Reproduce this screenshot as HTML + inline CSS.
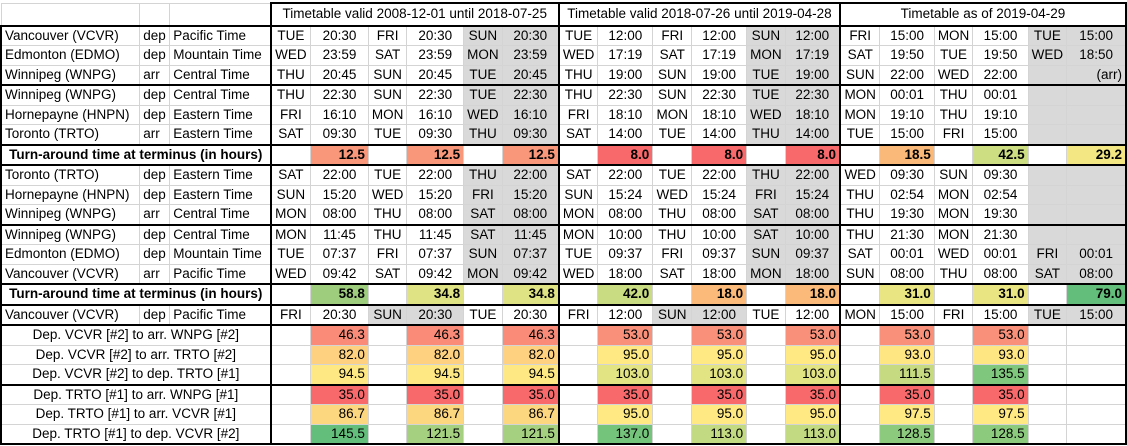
<!DOCTYPE html>
<html><head><meta charset="utf-8"><style>
html,body{margin:0;padding:0;background:#fff;width:1127px;height:446px;overflow:hidden}
table{position:absolute;left:0;top:2px;border-collapse:collapse;table-layout:fixed;font-family:"Liberation Sans",Arial,sans-serif;font-size:13.5px;color:#000}
td{border:1px solid #d4d4d4;height:18.5px;padding:0 3px;text-align:center;white-space:nowrap;overflow:hidden;line-height:18px}
tr.h td{height:20.5px}
tr.h td.x{border-top:2px solid #000}
tr.t td{border-top:2px solid #000}
tr.e td{border-bottom:2px solid #000}
.s{border-left:2px solid #000}
.z{border-right:2px solid #000}
.a{border-left:2px solid #000;text-align:left}
.l{text-align:left}
.g{background:#d9d9d9}
.b{font-weight:bold}
.r{text-align:right}
</style></head><body>
<table>
<colgroup><col style="width:139px"><col style="width:30px"><col style="width:101px">
<col style="width:40px"><col style="width:58px"><col style="width:37px"><col style="width:57px"><col style="width:38px"><col style="width:57px">
<col style="width:38px"><col style="width:55px"><col style="width:39px"><col style="width:55px"><col style="width:38px"><col style="width:55px">
<col style="width:40px"><col style="width:55px"><col style="width:38px"><col style="width:56px"><col style="width:37px"><col style="width:60px"></colgroup>
<tr class="h"><td></td><td></td><td></td><td colspan="6" class="s x">Timetable valid 2008-12-01 until 2018-07-25</td><td colspan="6" class="s x">Timetable valid 2018-07-26 until 2019-04-28</td><td colspan="6" class="s x z">Timetable as of 2019-04-29</td></tr>
<tr class="t"><td class="a">Vancouver (VCVR)</td><td class="l">dep</td><td class="l">Pacific Time</td><td class="s">TUE</td><td>20:30</td><td>FRI</td><td>20:30</td><td class="g">SUN</td><td class="g">20:30</td><td class="s">TUE</td><td>12:00</td><td>FRI</td><td>12:00</td><td class="g">SUN</td><td class="g">12:00</td><td class="s">FRI</td><td>15:00</td><td>MON</td><td>15:00</td><td class="g">TUE</td><td class="g z">15:00</td></tr>
<tr><td class="a">Edmonton (EDMO)</td><td class="l">dep</td><td class="l">Mountain Time</td><td class="s">WED</td><td>23:59</td><td>SAT</td><td>23:59</td><td class="g">MON</td><td class="g">23:59</td><td class="s">WED</td><td>17:19</td><td>SAT</td><td>17:19</td><td class="g">MON</td><td class="g">17:19</td><td class="s">SAT</td><td>19:50</td><td>TUE</td><td>19:50</td><td class="g">WED</td><td class="g z">18:50</td></tr>
<tr><td class="a">Winnipeg (WNPG)</td><td class="l">arr</td><td class="l">Central Time</td><td class="s">THU</td><td>20:45</td><td>SUN</td><td>20:45</td><td class="g">TUE</td><td class="g">20:45</td><td class="s">THU</td><td>19:00</td><td>SUN</td><td>19:00</td><td class="g">TUE</td><td class="g">19:00</td><td class="s">SUN</td><td>22:00</td><td>WED</td><td>22:00</td><td class="g"></td><td class="g z r">(arr)</td></tr>
<tr class="t"><td class="a">Winnipeg (WNPG)</td><td class="l">dep</td><td class="l">Central Time</td><td class="s">THU</td><td>22:30</td><td>SUN</td><td>22:30</td><td class="g">TUE</td><td class="g">22:30</td><td class="s">THU</td><td>22:30</td><td>SUN</td><td>22:30</td><td class="g">TUE</td><td class="g">22:30</td><td class="s">MON</td><td>00:01</td><td>THU</td><td>00:01</td><td class="g"></td><td class="g z"></td></tr>
<tr><td class="a">Hornepayne (HNPN)</td><td class="l">dep</td><td class="l">Eastern Time</td><td class="s">FRI</td><td>16:10</td><td>MON</td><td>16:10</td><td class="g">WED</td><td class="g">16:10</td><td class="s">FRI</td><td>18:10</td><td>MON</td><td>18:10</td><td class="g">WED</td><td class="g">18:10</td><td class="s">MON</td><td>19:10</td><td>THU</td><td>19:10</td><td class="g"></td><td class="g z"></td></tr>
<tr><td class="a">Toronto (TRTO)</td><td class="l">arr</td><td class="l">Eastern Time</td><td class="s">SAT</td><td>09:30</td><td>TUE</td><td>09:30</td><td class="g">THU</td><td class="g">09:30</td><td class="s">SAT</td><td>14:00</td><td>TUE</td><td>14:00</td><td class="g">THU</td><td class="g">14:00</td><td class="s">TUE</td><td>15:00</td><td>FRI</td><td>15:00</td><td class="g"></td><td class="g z"></td></tr>
<tr class="t b"><td colspan="3" class="a" style="text-align:center">Turn-around time at terminus (in hours)</td><td class="s"></td><td class="r" style="background:#f9977b">12.5</td><td></td><td class="r" style="background:#f9977b">12.5</td><td></td><td class="r" style="background:#f9977b">12.5</td><td class="s"></td><td class="r" style="background:#f8696b">8.0</td><td></td><td class="r" style="background:#f8696b">8.0</td><td></td><td class="r" style="background:#f8696b">8.0</td><td class="s"></td><td class="r" style="background:#fbb979">18.5</td><td></td><td class="r" style="background:#cddd82">42.5</td><td></td><td class="r z" style="background:#f2e783">29.2</td></tr>
<tr class="t"><td class="a">Toronto (TRTO)</td><td class="l">dep</td><td class="l">Eastern Time</td><td class="s">SAT</td><td>22:00</td><td>TUE</td><td>22:00</td><td class="g">THU</td><td class="g">22:00</td><td class="s">SAT</td><td>22:00</td><td>TUE</td><td>22:00</td><td class="g">THU</td><td class="g">22:00</td><td class="s">WED</td><td>09:30</td><td>SUN</td><td>09:30</td><td class="g"></td><td class="g z"></td></tr>
<tr><td class="a">Hornepayne (HNPN)</td><td class="l">dep</td><td class="l">Eastern Time</td><td class="s">SUN</td><td>15:20</td><td>WED</td><td>15:20</td><td class="g">FRI</td><td class="g">15:20</td><td class="s">SUN</td><td>15:24</td><td>WED</td><td>15:24</td><td class="g">FRI</td><td class="g">15:24</td><td class="s">THU</td><td>02:54</td><td>MON</td><td>02:54</td><td class="g"></td><td class="g z"></td></tr>
<tr><td class="a">Winnipeg (WNPG)</td><td class="l">arr</td><td class="l">Central Time</td><td class="s">MON</td><td>08:00</td><td>THU</td><td>08:00</td><td class="g">SAT</td><td class="g">08:00</td><td class="s">MON</td><td>08:00</td><td>THU</td><td>08:00</td><td class="g">SAT</td><td class="g">08:00</td><td class="s">THU</td><td>19:30</td><td>MON</td><td>19:30</td><td class="g"></td><td class="g z"></td></tr>
<tr class="t"><td class="a">Winnipeg (WNPG)</td><td class="l">dep</td><td class="l">Central Time</td><td class="s">MON</td><td>11:45</td><td>THU</td><td>11:45</td><td class="g">SAT</td><td class="g">11:45</td><td class="s">MON</td><td>10:00</td><td>THU</td><td>10:00</td><td class="g">SAT</td><td class="g">10:00</td><td class="s">THU</td><td>21:30</td><td>MON</td><td>21:30</td><td class="g"></td><td class="g z"></td></tr>
<tr><td class="a">Edmonton (EDMO)</td><td class="l">dep</td><td class="l">Mountain Time</td><td class="s">TUE</td><td>07:37</td><td>FRI</td><td>07:37</td><td class="g">SUN</td><td class="g">07:37</td><td class="s">TUE</td><td>09:37</td><td>FRI</td><td>09:37</td><td class="g">SUN</td><td class="g">09:37</td><td class="s">SAT</td><td>00:01</td><td>WED</td><td>00:01</td><td class="g">FRI</td><td class="g z">00:01</td></tr>
<tr><td class="a">Vancouver (VCVR)</td><td class="l">arr</td><td class="l">Pacific Time</td><td class="s">WED</td><td>09:42</td><td>SAT</td><td>09:42</td><td class="g">MON</td><td class="g">09:42</td><td class="s">WED</td><td>18:00</td><td>SAT</td><td>18:00</td><td class="g">MON</td><td class="g">18:00</td><td class="s">SUN</td><td>08:00</td><td>THU</td><td>08:00</td><td class="g">SAT</td><td class="g z">08:00</td></tr>
<tr class="t b"><td colspan="3" class="a" style="text-align:center">Turn-around time at terminus (in hours)</td><td class="s"></td><td class="r" style="background:#9fcd7e">58.8</td><td></td><td class="r" style="background:#e0e383">34.8</td><td></td><td class="r" style="background:#e0e383">34.8</td><td class="s"></td><td class="r" style="background:#c9dc81">42.0</td><td></td><td class="r" style="background:#fbba79">18.0</td><td></td><td class="r" style="background:#fbba79">18.0</td><td class="s"></td><td class="r" style="background:#eae583">31.0</td><td></td><td class="r" style="background:#eae583">31.0</td><td></td><td class="r z" style="background:#63be7b">79.0</td></tr>
<tr class="t"><td class="a">Vancouver (VCVR)</td><td class="l">dep</td><td class="l">Pacific Time</td><td class="s">FRI</td><td>20:30</td><td class="g">SUN</td><td class="g">20:30</td><td>TUE</td><td>20:30</td><td class="s">FRI</td><td>12:00</td><td class="g">SUN</td><td class="g">12:00</td><td>TUE</td><td>12:00</td><td class="s">MON</td><td>15:00</td><td>FRI</td><td>15:00</td><td class="g">TUE</td><td class="g z">15:00</td></tr>
<tr class="t"><td colspan="3" class="a" style="text-align:center">Dep. VCVR [#2] to arr. WNPG [#2]</td><td class="s"></td><td class="r" style="background:#f98b78">46.3</td><td></td><td class="r" style="background:#f98b78">46.3</td><td></td><td class="r" style="background:#f98b78">46.3</td><td class="s"></td><td class="r" style="background:#f9917a">53.0</td><td></td><td class="r" style="background:#f9917a">53.0</td><td></td><td class="r" style="background:#f9917a">53.0</td><td class="s"></td><td class="r" style="background:#f9917a">53.0</td><td></td><td class="r" style="background:#f9917a">53.0</td><td></td><td class="z"></td></tr>
<tr><td colspan="3" class="a" style="text-align:center">Dep. VCVR [#2] to arr. TRTO [#2]</td><td class="s"></td><td class="r" style="background:#fdd17f">82.0</td><td></td><td class="r" style="background:#fdd17f">82.0</td><td></td><td class="r" style="background:#fdd17f">82.0</td><td class="s"></td><td class="r" style="background:#fee983">95.0</td><td></td><td class="r" style="background:#fee983">95.0</td><td></td><td class="r" style="background:#fee983">95.0</td><td class="s"></td><td class="r" style="background:#fee683">93.0</td><td></td><td class="r" style="background:#fee683">93.0</td><td></td><td class="z"></td></tr>
<tr><td colspan="3" class="a" style="text-align:center">Dep. VCVR [#2] to dep. TRTO [#1]</td><td class="s"></td><td class="r" style="background:#fee883">94.5</td><td></td><td class="r" style="background:#fee883">94.5</td><td></td><td class="r" style="background:#fee883">94.5</td><td class="s"></td><td class="r" style="background:#e2e383">103.0</td><td></td><td class="r" style="background:#e2e383">103.0</td><td></td><td class="r" style="background:#e2e383">103.0</td><td class="s"></td><td class="r" style="background:#c6db81">111.5</td><td></td><td class="r" style="background:#7fc77d">135.5</td><td></td><td class="z"></td></tr>
<tr class="t"><td colspan="3" class="a" style="text-align:center">Dep. TRTO [#1] to arr. WNPG [#1]</td><td class="s"></td><td class="r" style="background:#f8696b">35.0</td><td></td><td class="r" style="background:#f8696b">35.0</td><td></td><td class="r" style="background:#f8696b">35.0</td><td class="s"></td><td class="r" style="background:#f8696b">35.0</td><td></td><td class="r" style="background:#f8696b">35.0</td><td></td><td class="r" style="background:#f8696b">35.0</td><td class="s"></td><td class="r" style="background:#f8696b">35.0</td><td></td><td class="r" style="background:#f8696b">35.0</td><td></td><td class="z"></td></tr>
<tr><td colspan="3" class="a" style="text-align:center">Dep. TRTO [#1] to arr. VCVR [#1]</td><td class="s"></td><td class="r" style="background:#fdd680">86.7</td><td></td><td class="r" style="background:#fdd680">86.7</td><td></td><td class="r" style="background:#fdd680">86.7</td><td class="s"></td><td class="r" style="background:#fee983">95.0</td><td></td><td class="r" style="background:#fee983">95.0</td><td></td><td class="r" style="background:#fee983">95.0</td><td class="s"></td><td class="r" style="background:#fee983">97.5</td><td></td><td class="r" style="background:#fee983">97.5</td><td></td><td class="z"></td></tr>
<tr class="e"><td colspan="3" class="a" style="text-align:center">Dep. TRTO [#1] to dep. VCVR [#2]</td><td class="s"></td><td class="r" style="background:#63be7b">145.5</td><td></td><td class="r" style="background:#a4d07f">121.5</td><td></td><td class="r" style="background:#a4d07f">121.5</td><td class="s"></td><td class="r" style="background:#75c47c">137.0</td><td></td><td class="r" style="background:#c2da81">113.0</td><td></td><td class="r" style="background:#c2da81">113.0</td><td class="s"></td><td class="r" style="background:#8cca7e">128.5</td><td></td><td class="r" style="background:#8cca7e">128.5</td><td></td><td class="z"></td></tr>
</table>
</body></html>
